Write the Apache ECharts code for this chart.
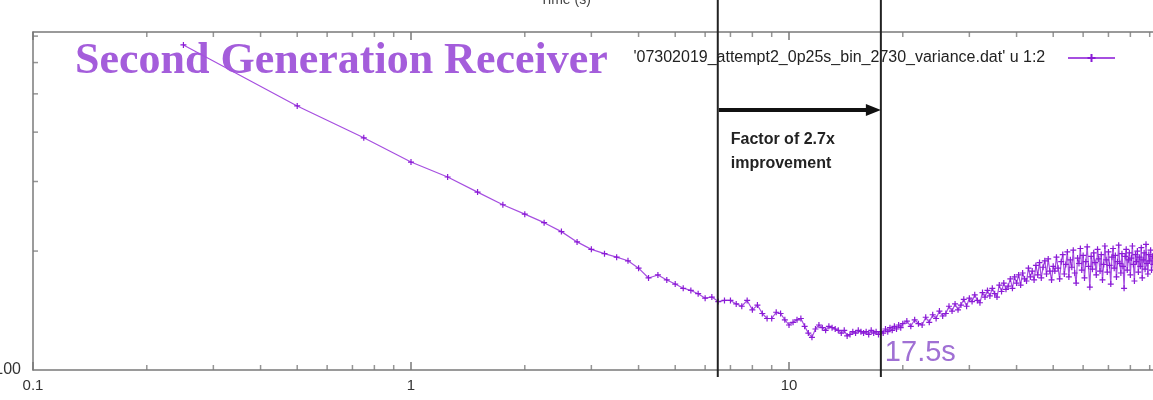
<!DOCTYPE html>
<html>
<head>
<meta charset="utf-8">
<title>Second Generation Receiver</title>
<script src="https://cdn.jsdelivr.net/npm/echarts@6/dist/echarts.min.js"></script>
<style>
html,body{margin:0;padding:0;background:#fff;}
#chart{width:1153px;height:400px;}
</style>
</head>
<body>
<div id="chart"></div>
<script>
// averaging time (s) and variance
var tauA = [0.25,0.5,0.75,1,1.25,1.5,1.75,2,2.25,2.5,2.75,3,3.25,3.5,3.75,4,4.25,4.5,4.75,5,
            5.25,5.5,5.75,6,6.25,6.5,6.75,7,7.25,7.5,7.75,8,8.25,8.5,8.75,9,9.25,9.5,9.75,10];
var valA = [665,466,387,336,308,282,262,248,236,224,211,202,197,193,189,181,171,174,169,165,
            161,159,156,152,153,149,150,150,147,145,150,142,146,139,135,135,140,139,134,130];

var tauB = [10.25,10.5,10.75,11,11.25,11.5,11.75,12,12.25,12.5,12.75,13,13.25,13.5,13.75,14,14.25,14.5,14.75,15,
            15.25,15.5,15.75,16,16.25,16.5,16.75,17,17.25,17.5,17.75,18,18.25,18.5,18.75,19,19.25,19.5,19.75,20];
var valB = [132,134,135,129,124,121,127,130,128,126,129,128,127,126,124,126,122,123,125,124,
            126,125,124,125,123,126,124,125,123,125,124,127,125,128,126,129,127,130,128,131];

var tauC = [20.5,21,21.5,22,22.5,23,23.5,24,24.5,25,25.5,26,26.5,27,27.5,28,28.5,29,29.5,30,
            30.5,31,31.5,32,32.5,33,33.5,34,34.5,35,35.5,36,36.5,37,37.5,38,38.5,39,39.5,40,
            40.5,41,41.5,42,42.5,43,43.5,44,44.5,45,45.5,46,46.5,47,47.5,48,48.5,49,49.5,50];
var valC = [133,129,134,131,130,136,132,138,135,141,137,139,145,141,147,142,146,151,145,152,
            149,155,150,148,157,153,159,154,161,156,153,164,158,166,160,163,170,161,172,166,
            174,164,176,170,168,181,172,178,169,184,174,187,171,182,189,175,191,178,169,183];

var tauD = [50.5,51,51.5,52,52.5,53,53.5,54,54.5,55,55.5,56,56.5,57,57.5,58,58.5,59,59.5,60,
            60.5,61,61.5,62,62.5,63,63.5,64,64.5,65,65.5,66,66.5,67,67.5,68,68.5,69,69.5,70,
            70.5,71,71.5,72,72.5,73,73.5,74,74.5,75,75.5,76,76.5,77,77.5,78,78.5,79,79.5,80,
            80.5,81,81.5,82,82.5,83,83.5,84,84.5,85,85.5,86,86.5,87,87.5,88,88.5,89,89.5,90,
            90.5,91,91.5,92];
var valD = [178,193,181,170,188,196,175,185,199,172,190,182,201,176,166,192,186,203,179,195,
            171,188,205,183,162,194,180,198,187,174,202,191,178,196,169,185,206,190,177,199,
            184,165,193,203,181,195,172,188,207,186,176,197,183,161,194,202,179,190,198,174,
            192,206,185,168,196,188,200,177,193,183,204,171,190,198,180,208,186,175,196,189,
            201,179,194,185];

// gnuplot style minor ticks on the log axes
var minorTickX = [0.2,0.3,0.4,0.5,0.6,0.7,0.8,0.9,2,3,4,5,6,7,8,9,20,30,40,50,60,70,80,90];
var minorTickY = [200,300,400,500,600,700];

var seriesName = "'07302019_attempt2_0p25s_bin_2730_variance.dat' u 1:2";
var lowTau = 6.48;   // 17.5 / 2.7
var minTau = 17.5;
var yMin = 100, yMax = 717;

function pairs(t, v) {
	var out = [];
	for (var i = 0; i < t.length; i++) out.push([t[i], v[i]]);
	return out;
}
var points = pairs(tauA, valA).concat(pairs(tauB, valB), pairs(tauC, valC), pairs(tauD, valD));

var bottomTicks = [], topTicks = [], leftTicks = [];
for (var i = 0; i < minorTickX.length; i++) {
	bottomTicks.push([minorTickX[i], yMin]);
	topTicks.push([minorTickX[i], yMax]);
}
for (var j = 0; j < minorTickY.length; j++) leftTicks.push([0.1, minorTickY[j]]);

var axisGray = '#7a7a7a';
var plusPath = 'path://M0,5L10,5M5,0L5,10';

var chart = echarts.init(document.getElementById('chart'));
var option = {
	animation: false,
	backgroundColor: '#fff',
	grid: {left: 33, right: -14, top: 32, bottom: 30, outerBoundsMode: 'none', containLabel: false},
	legend: {
		data: [seriesName],
		right: 32, top: 45,
		align: 'right',
		itemWidth: 47, itemHeight: 10,
		formatter: function (n) { return n + '    '; },
		textStyle: {fontFamily: 'Liberation Sans', fontSize: 16, color: '#222'}
	},
	xAxis: [{
		type: 'log', min: 0.1, max: 100, logBase: 10,
		axisLine: {lineStyle: {color: axisGray, width: 1.5}},
		axisTick: {inside: true, length: 8, lineStyle: {color: axisGray, width: 1.5}},
		axisLabel: {margin: 8, fontFamily: 'Liberation Sans', fontSize: 15, color: '#333'},
		splitLine: {show: false}
	}, {
		type: 'log', min: 0.1, max: 100, logBase: 10, position: 'top',
		axisLine: {lineStyle: {color: axisGray, width: 1.5}},
		axisTick: {inside: true, length: 8, lineStyle: {color: axisGray, width: 1.5}},
		axisLabel: {show: false},
		splitLine: {show: false}
	}],
	yAxis: {
		type: 'log', min: yMin, max: yMax, logBase: 10,
		axisLine: {show: true, lineStyle: {color: axisGray, width: 1.5}},
		axisTick: {show: false},
		axisLabel: {
			margin: 12, fontFamily: 'Liberation Sans', fontSize: 16, color: '#333',
			formatter: function (v) { return v === yMin ? String(yMin) : ''; }
		},
		splitLine: {show: false}
	},
	series: [{
		type: 'scatter', data: bottomTicks, symbol: 'rect', symbolSize: [1.5, 5],
		symbolOffset: [0, -2.5], itemStyle: {color: axisGray}, silent: true, clip: false
	}, {
		type: 'scatter', data: topTicks, symbol: 'rect', symbolSize: [1.5, 5],
		symbolOffset: [0, 2.5], itemStyle: {color: axisGray}, silent: true, clip: false
	}, {
		type: 'scatter', data: leftTicks, symbol: 'rect', symbolSize: [5, 1.5],
		symbolOffset: [2.5, 0], itemStyle: {color: axisGray}, silent: true, clip: false
	}, {
		name: seriesName,
		type: 'line',
		data: points,
		symbol: plusPath,
		symbolSize: 6,
		lineStyle: {color: '#a64fe0', width: 1.2},
		itemStyle: {color: '#8a1ad6', borderColor: '#8a1ad6', borderWidth: 1.2},
		z: 5
	}]
};
chart.setOption(option);

// annotation lines and texts, placed with the axis scale
var xLow = chart.convertToPixel({xAxisIndex: 0}, lowTau);
var xMin = chart.convertToPixel({xAxisIndex: 0}, minTau);
var arrowY = 110;
chart.setOption({
	graphic: [
		{type: 'text', left: 540, top: -7, style: {text: 'Time (s)', font: '14px Liberation Sans', fill: '#444'}},
		{type: 'line', shape: {x1: xLow, y1: 0, x2: xLow, y2: 377}, style: {stroke: '#222', lineWidth: 2}, z: 10},
		{type: 'line', shape: {x1: xMin, y1: 0, x2: xMin, y2: 377}, style: {stroke: '#222', lineWidth: 2}, z: 10},
		{type: 'line', shape: {x1: xLow + 1, y1: arrowY, x2: xMin - 12, y2: arrowY}, style: {stroke: '#111', lineWidth: 4}, z: 10},
		{type: 'polygon', shape: {points: [[xMin - 15, arrowY - 6], [xMin, arrowY], [xMin - 15, arrowY + 6]]}, style: {fill: '#111'}, z: 10},
		{type: 'text', x: xLow + 13, y: 128, style: {text: 'Factor of 2.7x\nimprovement', font: 'bold 16px Liberation Sans', fill: '#222', lineHeight: 24}, z: 10},
		{type: 'text', x: 75, y: 40, style: {text: 'Second Generation Receiver', font: 'bold 44px Liberation Serif', fill: '#a45ddb'}, z: 4},
		{type: 'text', x: xMin + 4, y: 338, style: {text: '17.5s', font: '29px Liberation Sans', fill: '#a070d4'}, z: 10}
	]
});
window.onresize = chart.resize;
</script>
</body>
</html>
